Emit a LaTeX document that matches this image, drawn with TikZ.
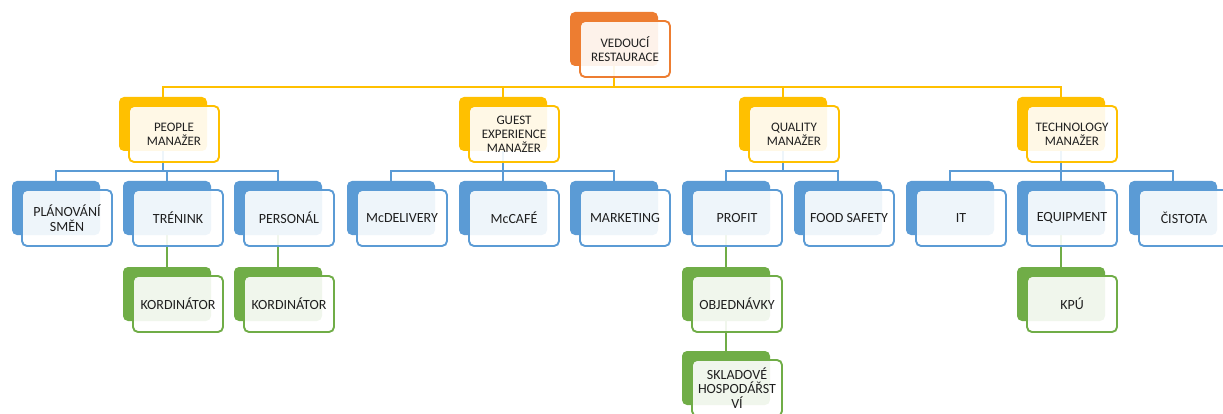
\documentclass[tikz,border=0pt]{standalone}
\usepackage{fontspec}
\setmainfont{Carlito}
\usetikzlibrary{backgrounds}
\definecolor{cOr}{HTML}{ED7D31}
\definecolor{cYe}{HTML}{FFC000}
\definecolor{cBl}{HTML}{5B9BD5}
\definecolor{cGr}{HTML}{70AD47}
\tikzset{
  backbox/.style={rectangle, rounded corners=5pt, minimum width=88pt, minimum height=54pt, inner sep=0pt, fill=#1},
  frontbox/.style={rectangle, rounded corners=5pt, minimum width=90pt, minimum height=56pt, inner sep=0pt,
    draw=#1, line width=1.9pt, fill=white, fill opacity=0.9, text opacity=1, text=black!88, align=center},
  conn/.style={line width=2.2pt, draw=#1},
  smalltxt/.style={font=\fontsize{13}{13.8}\selectfont},
  bigtxt/.style={font=\fontsize{14}{14.6}\selectfont},
}
\newcommand\obox[6]{%
  \node[backbox=#4] (#1-b) at (#2, -#3-27) {};
  \node[frontbox=#4, #5] (#1) at (#2+11, -#3-37) {#6};
}
\begin{document}
\begin{tikzpicture}[x=1pt,y=1pt]
\useasboundingbox (0,0) rectangle (1223,-414);
% top
\obox{top}{614}{12}{cOr}{smalltxt}{VEDOUCÍ\\RESTAURACE}
% managers
\obox{people}{163}{97}{cYe}{smalltxt}{PEOPLE\\MANAŽER}
\obox{guest}{503}{97}{cYe}{smalltxt}{GUEST\\EXPERIENCE\\MANAŽER}
\obox{quality}{783}{97}{cYe}{smalltxt}{QUALITY\\MANAŽER}
\obox{tech}{1061}{97}{cYe}{smalltxt}{TECHNOLOGY\\MANAŽER}
% leaves
\obox{plan}{56}{181}{cBl}{bigtxt}{PLÁNOVÁNÍ\\SMĚN}
\obox{trenink}{167}{181}{cBl}{bigtxt}{TRÉNINK}
\obox{personal}{278}{181}{cBl}{bigtxt}{PERSONÁL}
\obox{mcdel}{391}{181}{cBl}{bigtxt}{McDELIVERY}
\obox{mccafe}{503}{181}{cBl}{bigtxt}{McCAFÉ}
\obox{marketing}{614}{181}{cBl}{bigtxt}{MARKETING}
\obox{profit}{726}{181}{cBl}{bigtxt}{PROFIT}
\obox{food}{838}{181}{cBl}{bigtxt}{FOOD SAFETY}
\obox{it}{950}{181}{cBl}{bigtxt}{IT}
\obox{equip}{1061}{181}{cBl}{bigtxt}{EQUIPMENT}
\obox{cistota}{1173}{181}{cBl}{bigtxt}{ČISTOTA}
% green
\obox{kord1}{167}{267}{cGr}{bigtxt}{KORDINÁTOR}
\obox{kord2}{278}{267}{cGr}{bigtxt}{KORDINÁTOR}
\obox{obj}{726}{267}{cGr}{bigtxt}{OBJEDNÁVKY}
\obox{kpu}{1061}{267}{cGr}{bigtxt}{KPÚ}
\obox{sklad}{726}{351}{cGr}{bigtxt}{SKLADOVÉ\\HOSPODÁŘST\\VÍ}
\coordinate (busY) at (0,-87);
\coordinate (busB) at (0,-171);
\begin{pgfonlayer}{background}
\foreach \m in {people,guest,quality,tech}
  \draw[conn=cYe] (top-b.south) -- (top-b.south |- busY) -| (\m-b.north);
\foreach \m in {plan,trenink,personal}
  \draw[conn=cBl] (people-b.south) -- (people-b.south |- busB) -| (\m-b.north);
\foreach \m in {mcdel,mccafe,marketing}
  \draw[conn=cBl] (guest-b.south) -- (guest-b.south |- busB) -| (\m-b.north);
\foreach \m in {profit,food}
  \draw[conn=cBl] (quality-b.south) -- (quality-b.south |- busB) -| (\m-b.north);
\foreach \m in {it,equip,cistota}
  \draw[conn=cBl] (tech-b.south) -- (tech-b.south |- busB) -| (\m-b.north);
\draw[conn=cGr] (trenink-b.south) -- (kord1-b.north);
\draw[conn=cGr] (personal-b.south) -- (kord2-b.north);
\draw[conn=cGr] (profit-b.south) -- (obj-b.north);
\draw[conn=cGr] (obj-b.south) -- (sklad-b.north);
\draw[conn=cGr] (equip-b.south) -- (kpu-b.north);
\end{pgfonlayer}
\end{tikzpicture}
\end{document}
